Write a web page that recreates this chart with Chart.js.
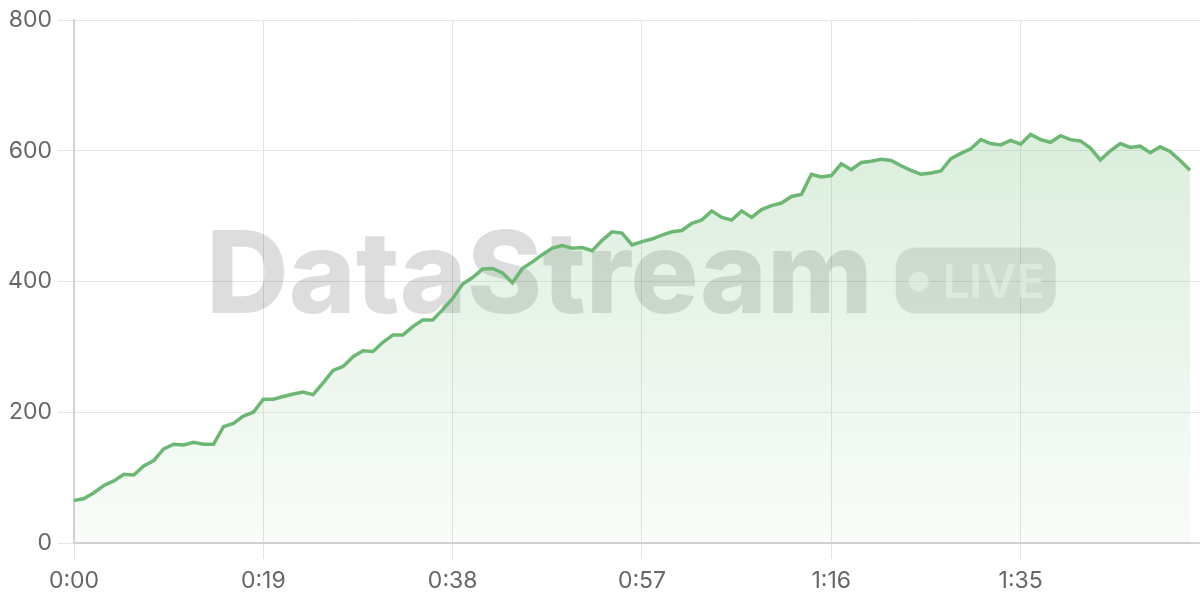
<!DOCTYPE html>
<html>
<head>
<meta charset="utf-8">
<script src="https://cdn.jsdelivr.net/npm/chart.js@4.4.1/dist/chart.umd.min.js"></script>
<style>
html,body{margin:0;padding:0;background:#fff;}
#wrap{width:1200px;height:600px;position:relative;}
</style>
</head>
<body>
<div id="wrap"><canvas id="c" width="1200" height="600"></canvas></div>
<script>
// seconds elapsed (x) and measured values (y)
const seconds = [];
for (let s = 0; s <= 112; s++) seconds.push(s);
const values = [
  65, 68, 77, 88, 95, 105, 104, 118, 126, 144,
  151, 150, 154, 151, 151, 178, 183, 194, 200, 220,
  220, 224, 228, 231, 227, 245, 264, 270, 285, 294,
  293, 307, 318, 318, 331, 341, 341, 357, 374, 396,
  406, 419, 420, 413, 398, 420, 430, 441, 451, 455,
  451, 452, 447, 463, 476, 474, 456, 461, 465, 471,
  476, 478, 489, 494, 508, 498, 494, 508, 498, 510,
  516, 520, 530, 533, 564, 560, 562, 580, 571, 582,
  584, 587, 585, 577, 570, 564, 566, 569, 588, 596,
  603, 617, 611, 609, 616, 610, 625, 617, 613, 623,
  617, 615, 604, 586, 600, 611, 605, 607, 597, 606,
  599, 585, 570
];
const xTickStep = 19;
const xMax = 113;
const yTicks = [0, 200, 400, 600, 800];
const watermarkText = 'DataStream';
const badgeText = 'LIVE';

function fmtTime(v) {
  const m = Math.floor(v / 60), s = v % 60;
  return m + ':' + (s < 10 ? '0' : '') + s;
}

const watermark = {
  id: 'watermark',
  beforeDatasetsDraw(chart) {
    const {ctx, chartArea: a} = chart;
    const cx = (a.left + a.right) / 2 - 6, cy = (a.top + a.bottom) / 2;
    ctx.save();
    ctx.font = '800 114px Inter, "Noto Sans", sans-serif';
    const w = ctx.measureText(watermarkText).width;
    const gap = 23, bw = 160, bh = 66;
    const total = w + gap + bw;
    const x0 = cx - total / 2;
    ctx.fillStyle = 'rgba(0,0,0,0.135)';
    ctx.textBaseline = 'alphabetic';
    ctx.textAlign = 'left';
    ctx.fillText(watermarkText, x0, cy + 31.5);
    const bx = x0 + w + gap, by = cy - 34;
    ctx.fillStyle = 'rgba(0,0,0,0.11)';
    ctx.beginPath();
    ctx.roundRect(bx, by, bw, bh, 20);
    ctx.fill();
    ctx.fillStyle = 'rgba(255,255,255,0.55)';
    ctx.beginPath();
    ctx.arc(bx + 23, cy, 10, 0, Math.PI * 2);
    ctx.fill();
    ctx.font = '600 47px Inter, "Noto Sans", sans-serif';
    ctx.fillText(badgeText, bx + 47, cy + 16.5);
    ctx.restore();
  }
};

const ctx = document.getElementById('c').getContext('2d');
new Chart(ctx, {
  type: 'line',
  data: {
    labels: seconds,
    datasets: [{
      data: seconds.map((s, i) => ({x: s, y: values[i]})),
      borderColor: '#6cb872',
      borderWidth: 3.5,
      pointRadius: 0,
      tension: 0,
      fill: 'origin',
      backgroundColor(c) {
        const a = c.chart.chartArea;
        if (!a) return 'rgba(109,184,114,0.15)';
        const g = c.chart.ctx.createLinearGradient(0, a.top, 0, a.bottom);
        g.addColorStop(0, 'rgba(109,184,114,0.30)');
        g.addColorStop(1, 'rgba(109,184,114,0.04)');
        return g;
      }
    }]
  },
  options: {
    responsive: false,
    animation: false,
    devicePixelRatio: 1,
    layout: {padding: {top: 20, right: 0, bottom: 0, left: 0}},
    plugins: {legend: {display: false}, tooltip: {enabled: false}},
    scales: {
      x: {
        type: 'linear',
        min: 0, max: xMax,
        afterBuildTicks(scale) {
          scale.ticks = [];
          for (let v = 0; v <= xMax; v += xTickStep) scale.ticks.push({value: v});
        },
        afterFit(scale) { scale.height = 57; },
        grid: {color: '#e3e3e3', lineWidth: 1, tickLength: 16, drawTicks: true},
        border: {color: '#d2d2d2', width: 2},
        ticks: {
          color: '#666',
          font: {family: 'Inter, "Noto Sans", sans-serif', size: 23},
          padding: 8,
          maxRotation: 0,
          autoSkip: false,
          callback: v => fmtTime(v)
        }
      },
      y: {
        min: 0, max: 800,
        afterBuildTicks(scale) { scale.ticks = yTicks.map(v => ({value: v})); },
        afterFit(scale) { scale.width = 74; },
        grid: {color: '#e6e6e6', lineWidth: 1, tickLength: 16},
        border: {color: '#d2d2d2', width: 2},
        ticks: {
          color: '#666',
          font: {family: 'Inter, "Noto Sans", sans-serif', size: 23},
          padding: 6
        }
      }
    }
  },
  plugins: [watermark]
});
</script>
</body>
</html>
